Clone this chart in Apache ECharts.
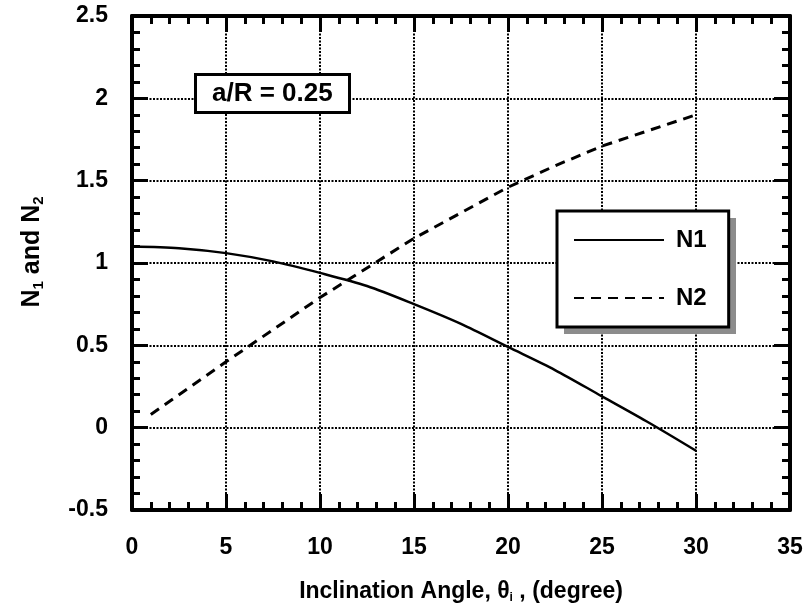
<!DOCTYPE html>
<html>

<head>
  <meta charset="utf-8">
  <script src="https://cdn.jsdelivr.net/npm/echarts@6.0.0/dist/echarts.min.js"></script>
  <style>
    body {
      margin: 0;
      background: #fff;
    }

    #chart {
      width: 812px;
      height: 613px;
    }
  </style>
</head>

<body>
  <div id="chart"></div>
  <script>
    // 数据
    const angleN1 = [0, 2.5, 5, 7.5, 10, 12.5, 15, 17.5, 20, 22.5, 25, 27.5, 30]
    const valueN1 = [1.10, 1.09, 1.06, 1.01, 0.94, 0.86, 0.75, 0.63, 0.49, 0.35, 0.19, 0.03, -0.14]
    const angleN2 = [1, 5, 10, 15, 20, 22.5, 25, 30]
    const valueN2 = [0.08, 0.40, 0.79, 1.15, 1.46, 1.59, 1.71, 1.90]
    const xTicks = [0, 35, 5]
    const yTicks = [-0.5, 2.5, 0.5]

    const font = 'Liberation Sans, Arial, Helvetica, sans-serif'

    function pairs(xs, ys) {
      return xs.map((x, i) => [x, ys[i]])
    }

    // 坐标轴公共样式
    function axis(position, showLabel, range) {
      return {
        type: 'value',
        position: position,
        min: range[0],
        max: range[1],
        interval: range[2],
        axisLine: { show: true, onZero: false, lineStyle: { color: '#000', width: 4 } },
        axisTick: { show: true, inside: true, length: 16, lineStyle: { color: '#000', width: 3 } },
        minorTick: { show: true, splitNumber: 5, length: 8, lineStyle: { color: '#000', width: 3 } },
        splitLine: showLabel ? { show: true, lineStyle: { color: '#000', width: 2, type: [2, 1.5] } } : { show: false },
        axisLabel: {
          show: showLabel,
          color: '#000',
          fontFamily: font,
          fontWeight: 'bold',
          fontSize: 23,
          margin: 26
        }
      }
    }

    const xBottom = axis('bottom', true, xTicks)
    xBottom.name = 'Inclination Angle, θ{s|i} , (degree)'
    xBottom.nameLocation = 'middle'
    xBottom.nameGap = 70
    xBottom.nameTextStyle = {
      color: '#000', fontFamily: font, fontWeight: 'bold', fontSize: 23, lineHeight: 24,
      rich: { s: { color: '#000', fontFamily: font, fontSize: 12, lineHeight: 10, verticalAlign: 'bottom' } }
    }
    const xTop = axis('top', false, xTicks)

    const yLeft = axis('left', true, yTicks)
    yLeft.axisLabel.margin = 24
    yLeft.name = 'N{s|1} and N{s|2}'
    yLeft.nameLocation = 'middle'
    yLeft.nameGap = 86
    yLeft.nameRotate = 90
    yLeft.nameTextStyle = {
      color: '#000', fontFamily: font, fontWeight: 'bold', fontSize: 25, lineHeight: 28,
      padding: [0, 0, 0, 22],
      rich: { s: { color: '#000', fontFamily: font, fontWeight: 'bold', fontSize: 15, lineHeight: 10, verticalAlign: 'bottom' } }
    }
    const yRight = axis('right', false, yTicks)

    const option = {
      animation: false,
      backgroundColor: '#fff',
      grid: { left: 132, right: 22, top: 16, bottom: 103 },
      title: {
        text: 'a/R = 0.25',
        left: 195,
        top: 74,
        padding: [7, 17, 6, 17],
        borderColor: '#000',
        borderWidth: 3,
        backgroundColor: '#fff',
        textStyle: { color: '#000', fontFamily: font, fontWeight: 'bold', fontSize: 26 }
      },
      // 图例后面的灰色阴影块
      graphic: [{
        type: 'rect',
        left: 564,
        top: 218,
        z: 5,
        shape: { width: 172, height: 116 },
        style: { fill: '#8c8c8c' }
      }],
      legend: {
        orient: 'vertical',
        left: 557,
        top: 211,
        z: 10,
        padding: [17, 22, 17, 16],
        itemWidth: 90,
        itemHeight: 14,
        itemGap: 34,
        backgroundColor: '#fff',
        borderColor: '#000',
        borderWidth: 3,
        itemStyle: { opacity: 0 },
        textStyle: { color: '#000', fontFamily: font, fontWeight: 'bold', fontSize: 24, padding: [0, 0, 0, 7] },
        data: ['N1', 'N2']
      },
      xAxis: [xBottom, xTop],
      yAxis: [yLeft, yRight],
      series: [
        {
          name: 'N1',
          type: 'line',
          data: pairs(angleN1, valueN1),
          smooth: 0.3,
          symbol: 'none',
          lineStyle: { color: '#000', width: 2.5, type: 'solid' },
          itemStyle: { color: '#000' }
        },
        {
          name: 'N2',
          type: 'line',
          data: pairs(angleN2, valueN2),
          symbol: 'none',
          lineStyle: { color: '#000', width: 3, type: [10, 7] },
          itemStyle: { color: '#000' }
        }
      ]
    }

    const chart = echarts.init(document.getElementById('chart'))
    chart.setOption(option)
  </script>
</body>

</html>
